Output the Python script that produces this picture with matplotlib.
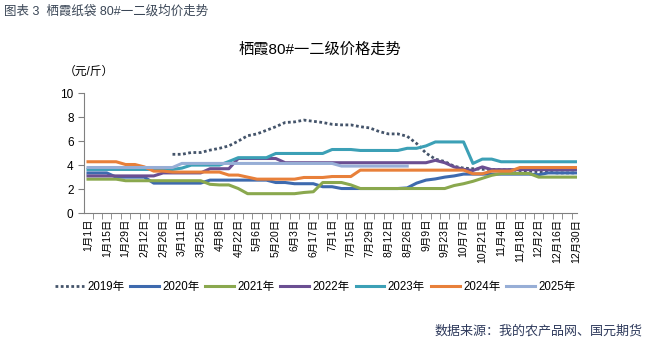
import numpy as np
import matplotlib
matplotlib.use("Agg")
import matplotlib.pyplot as plt

plt.rcParams['font.family'] = ['Liberation Sans', 'Noto Sans CJK SC', 'DejaVu Sans']

nan = np.nan

# weekly points, day 0 = 1月1日
weeks = np.arange(53) * 7

y2019 = [nan]*9 + [4.9, 4.9, 5.05, 5.05, 5.25, 5.4, 5.6, 6.0, 6.45, 6.6, 6.9, 7.2, 7.55, 7.6, 7.75,
                   7.65, 7.55, 7.4, 7.35, 7.35, 7.2, 7.1, 6.8, 6.6, 6.6, 6.4, 5.8, 5.0, 4.5, 4.3, 3.9,
                   3.75, 3.7, 3.65, 3.65, 3.6, 3.6, 3.55, 3.5, 3.45, 3.4, 3.35, 3.35, 3.35]
y2020 = [3.35]*3 + [3.0]*4 + [2.5]*6 + [2.75]*7 + [2.55]*2 + [2.45]*3 + [2.2]*2 + [2.05]*7 + \
        [2.1, 2.5, 2.75, 2.85, 3.0, 3.1] + [3.25]*8 + [3.2] + [3.35]*4
y2021 = [2.83]*4 + [2.7]*9 + [2.4] + [2.35]*2 + [2.05] + [1.62]*6 + [1.72, 1.78] + [2.55]*3 + [2.35] + \
        [2.05]*10 + [2.3, 2.45, 2.65, 2.9, 3.15] + [3.3]*4 + [3.0]*5
y2022 = [3.1]*8 + [3.35]*5 + [3.7]*3 + [4.55]*5 + [4.2]*16 + [4.4, 4.2, 3.85, 3.65, 3.55, 3.85] + [3.62]*10
y2023 = [3.64]*10 + [3.75] + [4.0]*4 + [4.3] + [4.62]*4 + [4.97]*6 + [5.3]*3 + [5.22]*5 + [5.4]*2 + \
        [5.6] + [5.93]*4 + [4.14] + [4.5]*2 + [4.28]*9
y2024 = [4.28]*4 + [4.05]*2 + [3.85] + [3.5]*2 + [3.42]*6 + [3.17]*2 + [3.0] + [2.83]*5 + [2.97]*3 + \
        [3.05]*3 + [3.58]*12 + [3.28]*2 + [3.5]*3 + [3.8]*7
y2025 = [3.8]*10 + [4.14]*17 + [3.92]*8 + [nan]*18

years = ['2019年', '2020年', '2021年', '2022年', '2023年', '2024年', '2025年']
series = [y2019, y2020, y2021, y2022, y2023, y2024, y2025]
colors = ['#44546A', '#3E6AAE', '#8AA84E', '#6B4F92', '#3CA0B6', '#E8803A', '#97AED6']

tick_days = np.arange(0, 365, 14)
tick_labels = []
d0 = np.datetime64('2024-01-01')
for d in tick_days:
    dt = (d0 + np.timedelta64(int(d), 'D')).astype(object)
    tick_labels.append('%d月%d日' % (dt.month, dt.day))

fig = plt.figure(figsize=(6.46, 3.41), dpi=100)
ax = fig.add_axes([0.130, 0.375, 0.763, 0.352])

for name, ys, c in zip(years, series, colors):
    if name == '2019年':
        ax.plot(weeks, ys, color=c, lw=2.0, linestyle=(0, (1.0, 0.9)), label=name)
    else:
        ax.plot(weeks, ys, color=c, lw=2.2, label=name)

ax.set_xlim(-3, 364.5)
ax.set_ylim(0, 10)
ax.set_yticks([0, 2, 4, 6, 8, 10])
ax.set_xticks(tick_days)
ax.set_xticklabels(tick_labels, rotation=90, fontsize=7.5)
ax.set_xticks(np.arange(3.5, 364, 7), minor=True)
ax.tick_params(axis='x', which='major', length=0, pad=4)
ax.tick_params(axis='x', which='minor', length=4, color='#808080')
ax.tick_params(axis='y', length=4, color='#808080', labelsize=8.5)
for s in ['top', 'right']:
    ax.spines[s].set_visible(False)
for s in ['left', 'bottom']:
    ax.spines[s].set_color('#808080')

fig.text(0.006, 0.965, '图表 3  栖霞纸袋 80#一二级均价走势', fontsize=9, color='#3A4656', va='center')
fig.text(0.495, 0.853, '栖霞80#一二级价格走势', fontsize=11, color='black', ha='center', va='center')
fig.text(0.098, 0.788, '（元/斤）', fontsize=8.5, color='black', va='center')
fig.text(0.995, 0.03, '数据来源：我的农产品网、国元期货', fontsize=9.4, color='#2E3A5C', ha='right', va='center')

fig.legend(loc='center', bbox_to_anchor=(0.488, 0.158), ncol=7, frameon=False, fontsize=8.3,
           handlelength=2.5, columnspacing=0.5, handletextpad=0.3)

fig.savefig('out.png', dpi=100)
